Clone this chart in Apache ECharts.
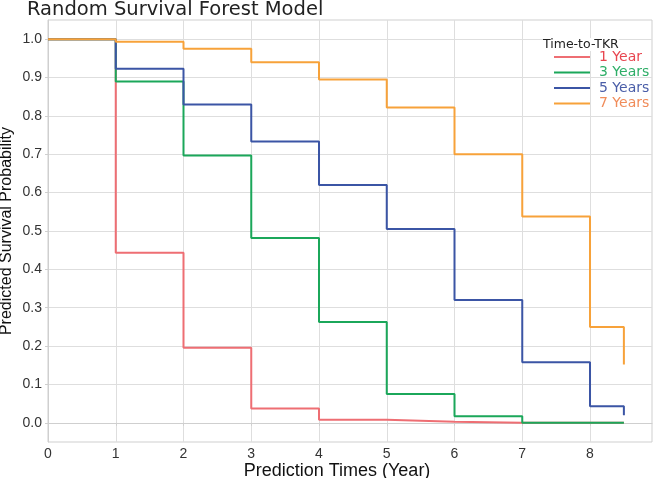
<!DOCTYPE html>
<html><head><meta charset="utf-8">
<script src="https://cdn.jsdelivr.net/npm/echarts@6/dist/echarts.min.js"></script>
<style>html,body{margin:0;padding:0;background:#fff}#c{width:656px;height:478px}</style>
</head><body><div id="c"></div>
<script>
const times = [0, 1, 2, 3, 4, 5, 6, 7, 8, 8.5];
const year1 = [1.0, 0.443, 0.196, 0.037, 0.008, 0.003, 0.0, 0.0, 0.0, 0.0];
const year3 = [1.0, 0.890, 0.697, 0.482, 0.263, 0.075, 0.017, 0.0, 0.0, 0.0];
const year5 = [1.0, 0.923, 0.830, 0.733, 0.620, 0.505, 0.320, 0.158, 0.043, 0.020];
const year7 = [1.0, 0.993, 0.975, 0.940, 0.895, 0.822, 0.700, 0.538, 0.250, 0.152];
const seriesNames = ['1 Year', '3 Years', '5 Years', '7 Years'];
const xTicks = [0, 1, 2, 3, 4, 5, 6, 7, 8];
const yTicks = [0, 0.1, 0.2, 0.3, 0.4, 0.5, 0.6, 0.7, 0.8, 0.9, 1.0];

const colors = ['#EE6E73', '#1BA75A', '#3B55A5', '#F7A23A'];
const legendText = ['#E8454F', '#2FAE68', '#4A5EA8', '#F08C5A'];
const allData = [year1, year3, year5, year7];

const chart = echarts.init(document.getElementById('c'), null, {renderer: 'canvas'});
const series = allData.map((vals, i) => ({
  name: seriesNames[i],
  type: 'line',
  step: 'end',
  symbol: 'none',
  data: times.map((t, j) => [t, vals[j]]),
  lineStyle: {color: colors[i], width: 2},
  itemStyle: {color: colors[i]},
  z: 2 + i
}));
chart.setOption({
  animation: false,
  backgroundColor: '#fff',
  title: {
    text: 'Random Survival Forest Model',
    left: 22, top: -5,
    textStyle: {fontFamily: 'DejaVu Sans', fontSize: 19.5, fontWeight: 'normal', color: '#222'}
  },
  graphic: [{
    type: 'text', left: 543, top: 38, z: 100,
    style: {text: 'Time-to-TKR', fontFamily: 'DejaVu Sans', fontSize: 12.5, fill: '#222', backgroundColor: '#fff'}
  }],
  legend: {
    orient: 'vertical', left: 549, top: 45,
    itemWidth: 36, itemHeight: 12, itemGap: 1.5,
    icon: 'path://M0,5 L36,5 L36,7 L0,7 Z',
    data: seriesNames.map((n, i) => ({name: n, textStyle: {color: legendText[i]}})),
    textStyle: {fontFamily: 'DejaVu Sans', fontSize: 14, lineHeight: 14, padding: [0, 0, 0, 4]}
  },
  grid: {left: 48, right: 4, top: 20, bottom: 36, show: true, borderColor: '#cfcfcf', borderWidth: 1, outerBoundsMode: 'none', containLabel: false},
  xAxis: {
    type: 'value', min: 0, max: 8.915,
    name: 'Prediction Times (Year)', nameLocation: 'middle', nameGap: 20, nameMoveOverlap: false,
    nameTextStyle: {fontFamily: 'Liberation Sans', fontSize: 18, color: '#111', padding: [0, 26, 0, 0]},
    axisLine: {show: true, lineStyle: {color: '#cfcfcf'}},
    axisTick: {show: true, length: 3, lineStyle: {color: '#cfcfcf'}, customValues: xTicks},
    axisLabel: {customValues: xTicks, fontFamily: 'Liberation Sans', fontSize: 14, color: '#333', margin: 5},
    splitLine: {show: true, lineStyle: {color: '#dedede', width: 1}}
  },
  yAxis: {
    type: 'value', min: -0.05, max: 1.05,
    name: 'Predicted Survival Probability', nameLocation: 'middle', nameGap: 33, nameMoveOverlap: false,
    nameTextStyle: {fontFamily: 'Liberation Sans', fontSize: 16, color: '#111'},
    axisLine: {show: true, lineStyle: {color: '#cfcfcf'}},
    axisTick: {show: true, length: 3, lineStyle: {color: '#cfcfcf'}, customValues: yTicks},
    axisLabel: {customValues: yTicks, formatter: v => v.toFixed(1), fontFamily: 'Liberation Sans', fontSize: 14, color: '#333', margin: 6},
    splitLine: {show: true, lineStyle: {color: '#dedede', width: 1}}
  },
  series: series
});
</script></body></html>
